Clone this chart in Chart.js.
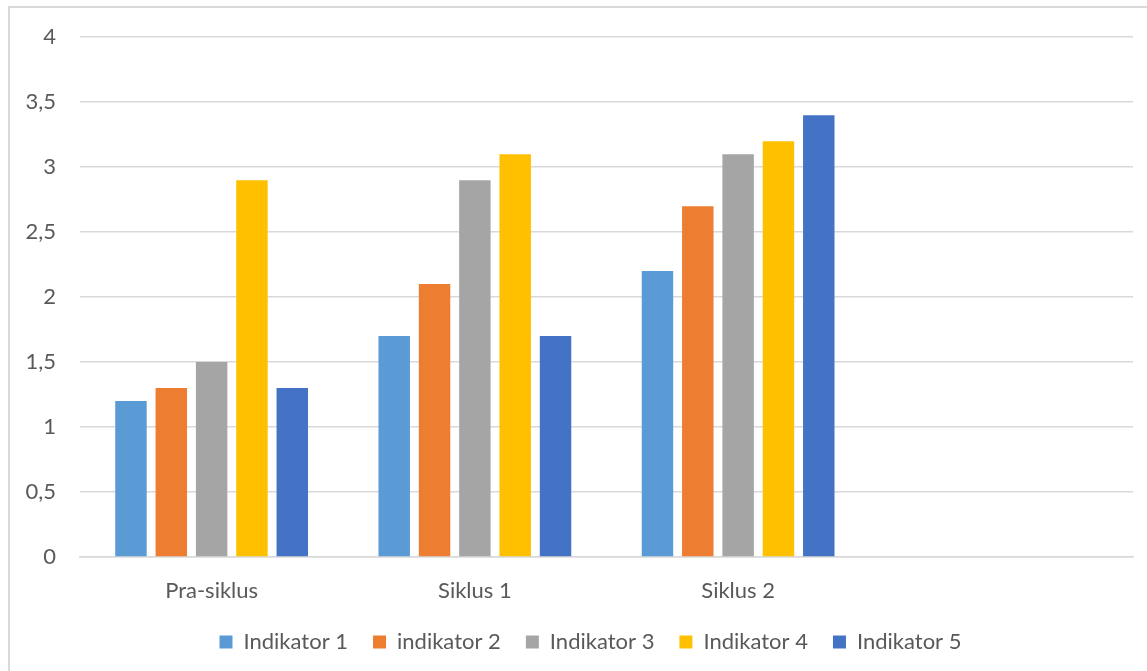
<!DOCTYPE html>
<html>
<head>
<meta charset="utf-8">
<script src="https://cdn.jsdelivr.net/npm/chart.js@4"></script>
<style>
  html, body { margin: 0; padding: 0; background: #fff; }
  #wrap { position: relative; width: 1147px; height: 671px; overflow: hidden; }
  #frame { position: absolute; left: 8px; top: 6px; width: 1300px; height: 800px; border: 2px solid #d9d9d9; }
  canvas { position: absolute; left: 0; top: 0; }
</style>
</head>
<body>
<div id="wrap">
  <div id="frame"></div>
  <canvas id="chart" width="1180" height="663"></canvas>
</div>
<script>
// categories (the 4th slot is empty in the original)
const categories = ['Pra-siklus', 'Siklus 1', 'Siklus 2', ''];
const seriesNames = ['Indikator 1', 'indikator 2', 'Indikator 3', 'Indikator 4', 'Indikator 5'];
const seriesColors = ['#5B9BD5', '#ED7D31', '#A5A5A5', '#FFC000', '#4472C4'];

const indikator1 = [1.2, 1.7, 2.2, null];
const indikator2 = [1.3, 2.1, 2.7, null];
const indikator3 = [1.5, 2.9, 3.1, null];
const indikator4 = [2.9, 3.1, 3.2, null];
const indikator5 = [1.3, 1.7, 3.4, null];
const seriesValues = [indikator1, indikator2, indikator3, indikator4, indikator5];

const yTicks = [0, 0.5, 1, 1.5, 2, 2.5, 3, 3.5, 4];

const FONT = 'Lato, "Open Sans", sans-serif';

// the original chart is wider than the crop, so its legend sits right of centre
const legendShift = {
  id: 'legendShift',
  afterLayout(chart) {
    chart.legend.left += 24;
    chart.legend.right += 24;
  }
};

const ctx = document.getElementById('chart').getContext('2d');
new Chart(ctx, {
  type: 'bar',
  data: {
    labels: categories,
    datasets: seriesValues.map((vals, i) => ({
      label: seriesNames[i],
      data: vals,
      backgroundColor: seriesColors[i],
      borderWidth: 0,
      categoryPercentage: 0.766,
      barPercentage: 0.78
    }))
  },
  options: {
    responsive: false,
    animation: false,
    layout: { padding: { top: 36, right: 47, left: 0, bottom: 0 } },
    scales: {
      x: {
        grid: { display: false, drawTicks: false },
        border: { color: '#d9d9d9', width: 1.5 },
        ticks: { color: '#595959', font: { family: FONT, size: 22 }, padding: 21 },
        afterFit: (scale) => { scale.height = 49; }
      },
      y: {
        min: 0,
        max: 4,
        afterFit: (scale) => { scale.width = 80; },
        afterBuildTicks: (scale) => { scale.ticks = yTicks.map(v => ({ value: v })); },
        grid: { color: '#d9d9d9', lineWidth: 1.5, drawTicks: false },
        border: { display: false },
        ticks: {
          color: '#595959',
          font: { family: FONT, size: 22 },
          padding: 24,
          callback: (v) => String(v).replace('.', ',')
        }
      }
    },
    plugins: {
      legend: {
        position: 'bottom',
        labels: {
          color: '#595959',
          font: { family: FONT, size: 22 },
          boxWidth: 13,
          boxHeight: 13,
          padding: 25
        }
      },
      tooltip: { enabled: false }
    }
  },
  plugins: [legendShift]
});
</script>
</body>
</html>
